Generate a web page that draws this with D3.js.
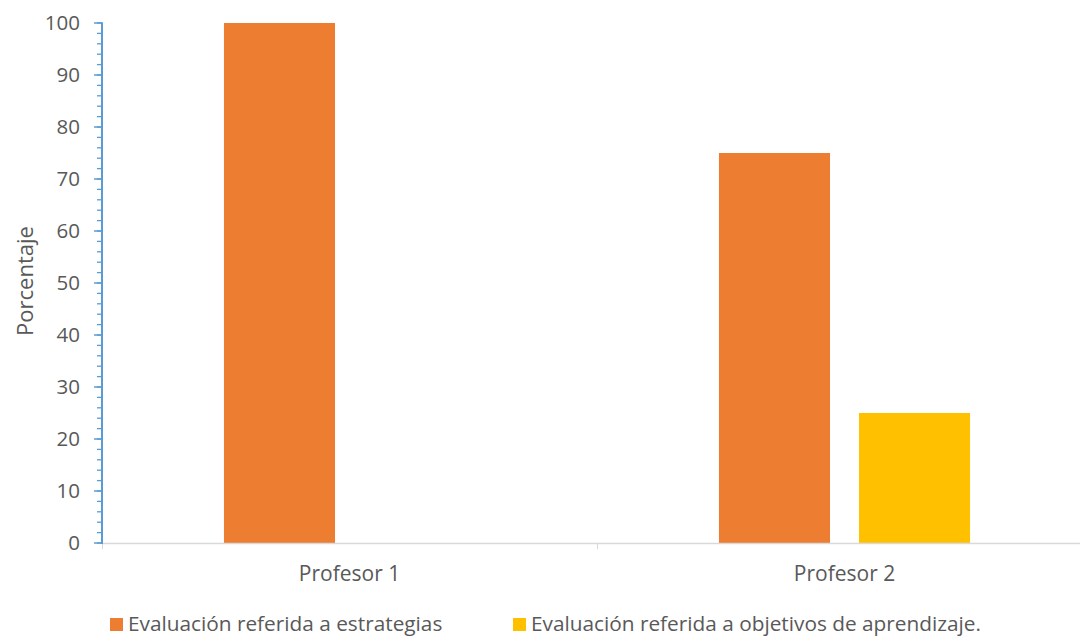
<!DOCTYPE html>
<html>
<head>
<meta charset="utf-8">
<script src="https://cdn.jsdelivr.net/npm/d3@7"></script>
<style>
  html, body { margin: 0; padding: 0; background: #fff; }
  svg { display: block; }
</style>
</head>
<body>
<svg id="chart" width="1080" height="637"></svg>
<script>
// Chart data
const categories = ["Profesor 1", "Profesor 2"];
const seriesNames = ["Evaluación referida a estrategias", "Evaluación referida a objetivos de aprendizaje."];
const estrategias = [100, 75];
const objetivos = [0, 25];
const yTicks = [0, 10, 20, 30, 40, 50, 60, 70, 80, 90, 100];
const colors = ["#ED7D31", "#FFC000"];

const svg = d3.select("#chart");
const font = "'Open Sans', sans-serif";
const textColor = "#595959";

const plotLeft = 102, plotRight = 1092, plotTop = 23, plotBottom = 543;

const x0 = d3.scaleBand().domain(categories).range([plotLeft, plotRight]).padding(0);
const x1 = d3.scaleBand().domain(seriesNames).range([0, x0.bandwidth()])
  .paddingInner(0.207).paddingOuter(0.871);
const y = d3.scaleLinear().domain([0, 100]).range([plotBottom, plotTop]);

const rows = categories.map((c, i) => ({
  cat: c,
  vals: [estrategias[i], objetivos[i]]
}));

// Bars
const groups = svg.append("g").selectAll("g").data(rows).join("g")
  .attr("transform", d => `translate(${x0(d.cat)},0)`);
groups.selectAll("rect")
  .data(d => d.vals.map((v, j) => ({ name: seriesNames[j], v, j })))
  .join("rect")
  .attr("x", d => x1(d.name))
  .attr("width", x1.bandwidth())
  .attr("y", d => y(d.v))
  .attr("height", d => plotBottom - y(d.v))
  .attr("fill", d => colors[d.j]);

// X axis (gray baseline with category separators)
const xAxis = svg.append("g");
xAxis.append("line")
  .attr("x1", plotLeft).attr("x2", 1080).attr("y1", plotBottom + 0.5).attr("y2", plotBottom + 0.5)
  .attr("stroke", "#D9D9D9").attr("stroke-width", 1.5);
x0.domain().forEach(c => {
  const xb = Math.round(x0(c)) + 0.5;
  xAxis.append("line")
    .attr("x1", xb).attr("x2", xb).attr("y1", plotBottom).attr("y2", plotBottom + 6)
    .attr("stroke", "#D9D9D9").attr("stroke-width", 1);
  xAxis.append("text")
    .attr("x", x0(c) + x0.bandwidth() / 2).attr("y", plotBottom + 38)
    .attr("text-anchor", "middle")
    .attr("font-family", font).attr("font-size", 21)
    .attr("fill", textColor).text(c);
});

// Y axis: blue line, major and minor ticks
const yAxis = svg.append("g");
const minor = d3.range(0, 101, 2);
yAxis.selectAll("line.minor").data(minor).join("line")
  .attr("class", "minor")
  .attr("x1", plotLeft - 5).attr("x2", plotLeft)
  .attr("y1", d => y(d)).attr("y2", d => y(d))
  .attr("stroke", "#5B9BD5").attr("stroke-width", 1.3);
yAxis.selectAll("line.major").data(yTicks).join("line")
  .attr("class", "major")
  .attr("x1", plotLeft - 8).attr("x2", plotLeft)
  .attr("y1", d => y(d)).attr("y2", d => y(d))
  .attr("stroke", "#5B9BD5").attr("stroke-width", 1.5);
yAxis.append("line")
  .attr("x1", plotLeft).attr("x2", plotLeft).attr("y1", plotTop - 0.7).attr("y2", plotBottom + 1)
  .attr("stroke", "#5B9BD5").attr("stroke-width", 2);
yAxis.selectAll("text").data(yTicks).join("text")
  .attr("x", 80).attr("y", d => y(d))
  .attr("dy", "0.36em")
  .attr("text-anchor", "end")
  .attr("font-family", font).attr("font-size", 20.5)
  .attr("fill", textColor).text(d => d);

// Y axis title
svg.append("text")
  .attr("transform", "translate(33,281) rotate(-90)")
  .attr("text-anchor", "middle")
  .attr("font-family", font).attr("font-size", 22)
  .attr("fill", textColor).text("Porcentaje");

// Legend
const legendX = [110, 513];
const legend = svg.append("g");
seriesNames.forEach((s, i) => {
  legend.append("rect")
    .attr("x", legendX[i]).attr("y", 618).attr("width", 13).attr("height", 13)
    .attr("fill", colors[i]);
  legend.append("text")
    .attr("x", legendX[i] + 18).attr("y", 631)
    .attr("font-family", font).attr("font-size", 20.8)
    .attr("fill", textColor).text(s);
});
</script>
</body>
</html>
